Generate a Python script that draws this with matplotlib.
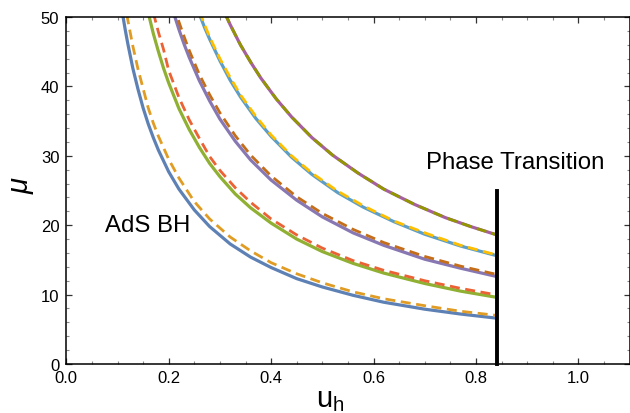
import matplotlib
matplotlib.use("Agg")
import matplotlib.pyplot as plt
from matplotlib.ticker import MultipleLocator, FixedLocator

plt.rcParams['font.family'] = ['Liberation Sans', 'DejaVu Sans']
plt.rcParams['mathtext.fontset'] = 'custom'
plt.rcParams['mathtext.rm'] = 'Liberation Sans'
plt.rcParams['mathtext.it'] = 'Liberation Sans:italic'

# ---- data ----
u_blue = [0.10, 0.105, 0.11, 0.115, 0.12, 0.13, 0.14, 0.15, 0.16, 0.17, 0.18, 0.20, 0.22, 0.25, 0.28, 0.32, 0.36, 0.40, 0.45, 0.50, 0.56, 0.62, 0.70, 0.77, 0.841]
mu_blue = [55.4, 52.8, 50.4, 48.2, 46.2, 42.6, 39.6, 36.9, 34.6, 32.6, 30.8, 27.7, 25.2, 22.2, 19.8, 17.3, 15.4, 13.9, 12.3, 11.1, 9.9, 8.9, 7.9, 7.2, 6.6]

u_orange = [0.11, 0.115, 0.12, 0.13, 0.14, 0.15, 0.16, 0.17, 0.18, 0.20, 0.22, 0.25, 0.28, 0.32, 0.36, 0.40, 0.45, 0.50, 0.56, 0.62, 0.70, 0.77, 0.841]
mu_orange = [54.1, 51.8, 49.6, 45.8, 42.5, 39.7, 36.9, 34.7, 32.8, 29.5, 26.8, 23.4, 20.9, 18.3, 16.3, 14.6, 13.0, 11.7, 10.4, 9.4, 8.4, 7.6, 7.0]

u_green = [0.16, 0.17, 0.18, 0.19, 0.20, 0.22, 0.24, 0.26, 0.28, 0.30, 0.33, 0.36, 0.40, 0.45, 0.50, 0.56, 0.62, 0.70, 0.77, 0.841]
mu_green = [50.6, 47.6, 45.0, 42.6, 40.5, 36.8, 33.8, 31.2, 28.9, 27.0, 24.5, 22.5, 20.3, 18.0, 16.2, 14.5, 13.1, 11.6, 10.5, 9.6]

u_red = [0.17, 0.18, 0.19, 0.20, 0.22, 0.24, 0.26, 0.28, 0.30, 0.33, 0.36, 0.40, 0.45, 0.50, 0.56, 0.62, 0.70, 0.77, 0.841]
mu_red = [50.6, 47.8, 45.3, 42.3, 38.4, 35.2, 32.5, 29.9, 27.9, 25.4, 23.3, 20.9, 18.6, 16.7, 14.9, 13.5, 12.0, 10.9, 9.95]

u_purple = [0.21, 0.22, 0.23, 0.24, 0.26, 0.28, 0.30, 0.33, 0.36, 0.40, 0.45, 0.50, 0.56, 0.62, 0.70, 0.77, 0.841]
mu_purple = [50.5, 48.2, 46.1, 44.2, 40.8, 37.9, 35.3, 32.1, 29.4, 26.5, 23.6, 21.2, 18.9, 17.1, 15.1, 13.8, 12.6]

u_brown = [0.21, 0.22, 0.23, 0.24, 0.26, 0.28, 0.30, 0.33, 0.36, 0.40, 0.45, 0.50, 0.56, 0.62, 0.70, 0.77, 0.841]
mu_brown = [51.7, 49.3, 47.2, 45.2, 41.7, 38.8, 36.2, 32.9, 30.1, 27.1, 24.1, 21.7, 19.4, 17.5, 15.5, 14.1, 12.9]

u_lblue = [0.26, 0.27, 0.28, 0.30, 0.32, 0.34, 0.37, 0.40, 0.44, 0.48, 0.53, 0.58, 0.64, 0.70, 0.77, 0.841]
mu_lblue = [50.4, 48.5, 46.8, 43.7, 40.9, 38.5, 35.4, 32.8, 29.8, 27.3, 24.7, 22.6, 20.5, 18.7, 17.0, 15.6]

u_yellow = [0.26, 0.27, 0.28, 0.30, 0.32, 0.34, 0.37, 0.40, 0.44, 0.48, 0.53, 0.58, 0.64, 0.70, 0.77, 0.841]
mu_yellow = [50.8, 48.9, 47.1, 44.0, 41.3, 38.8, 35.7, 33.0, 30.0, 27.5, 24.9, 22.8, 20.6, 18.9, 17.1, 15.7]

u_pink = [0.31, 0.32, 0.34, 0.36, 0.38, 0.41, 0.44, 0.48, 0.52, 0.57, 0.62, 0.68, 0.74, 0.79, 0.841]
mu_pink = [50.5, 48.9, 46.0, 43.5, 41.2, 38.2, 35.6, 32.6, 30.1, 27.5, 25.2, 23.0, 21.1, 19.8, 18.6]

u_olive = [0.31, 0.32, 0.34, 0.36, 0.38, 0.41, 0.44, 0.48, 0.52, 0.57, 0.62, 0.68, 0.74, 0.79, 0.841]
mu_olive = [50.5, 48.9, 46.0, 43.5, 41.2, 38.2, 35.6, 32.6, 30.1, 27.5, 25.2, 23.0, 21.1, 19.8, 18.6]

transition_u = 0.841
transition_mu = [0.0, 25.0]

x_ticks = [0.0, 0.2, 0.4, 0.6, 0.8, 1.0]
x_ticklabels = ["0.0", "0.2", "0.4", "0.6", "0.8", "1.0"]
y_ticks = [0, 10, 20, 30, 40, 50]
y_ticklabels = ["0", "10", "20", "30", "40", "50"]

# ---- figure ----
fig = plt.figure(figsize=(6.3, 4.14), dpi=100)
ax = fig.add_axes([66.3 / 630, 49 / 414, (629.5 - 66.3) / 630, (365 - 18) / 414])

solid_lw = 2.3
dash_lw = 2.0
dash = (0, (3.6, 2.0))

series = [
    (u_blue, mu_blue, '#5E81B5', 'solid'),
    (u_orange, mu_orange, '#E19C24', 'dash'),
    (u_green, mu_green, '#8FB032', 'solid'),
    (u_red, mu_red, '#EB6235', 'dash'),
    (u_purple, mu_purple, '#8778B3', 'solid'),
    (u_brown, mu_brown, '#C56E1A', 'dash'),
    (u_lblue, mu_lblue, '#5D9EC7', 'solid'),
    (u_yellow, mu_yellow, '#FFBF00', 'dash'),
    (u_pink, mu_pink, '#A5609D', 'solid'),
    (u_olive, mu_olive, '#929600', 'dash'),
]
for u, mu, c, st in series:
    if st == 'solid':
        ax.plot(u, mu, color=c, lw=solid_lw, solid_capstyle='butt', solid_joinstyle='round')
    else:
        ax.plot(u, mu, color=c, lw=dash_lw, linestyle=dash, dash_capstyle='butt')

ax.plot([transition_u, transition_u], transition_mu, color='black', lw=2.8, clip_on=False)

ax.text(0.0755, 20.0, "AdS BH", fontsize=17.3, va='center', ha='left')
ax.text(0.703, 29.1, "Phase Transition", fontsize=17.3, va='center', ha='left')

ax.set_xlim(0, 1.1)
ax.set_ylim(0, 50)
ax.xaxis.set_major_locator(FixedLocator(x_ticks))
ax.set_xticklabels(x_ticklabels)
ax.yaxis.set_major_locator(FixedLocator(y_ticks))
ax.set_yticklabels(y_ticklabels)
ax.xaxis.set_minor_locator(MultipleLocator(0.05))
ax.yaxis.set_minor_locator(MultipleLocator(2))

ax.tick_params(which='both', direction='in', top=True, right=True, labelsize=12)
ax.tick_params(axis='x', pad=4)
ax.tick_params(axis='y', pad=5)
ax.tick_params(which='major', length=4.5, width=0.9, color='#333333')
ax.tick_params(which='minor', length=2.3, width=0.8, color='#888888')

for sp in ax.spines.values():
    sp.set_linewidth(1.1)
    sp.set_color('black')

fig.text(330 / 630, 1 - 400 / 414, r'$\mathrm{u_h}$', fontsize=21, ha='center', va='center')
fig.text(22 / 630, 1 - 185 / 414, r'$\mu$', fontsize=21, ha='center', va='center', rotation=90)

fig.savefig("out.png", dpi=100)
